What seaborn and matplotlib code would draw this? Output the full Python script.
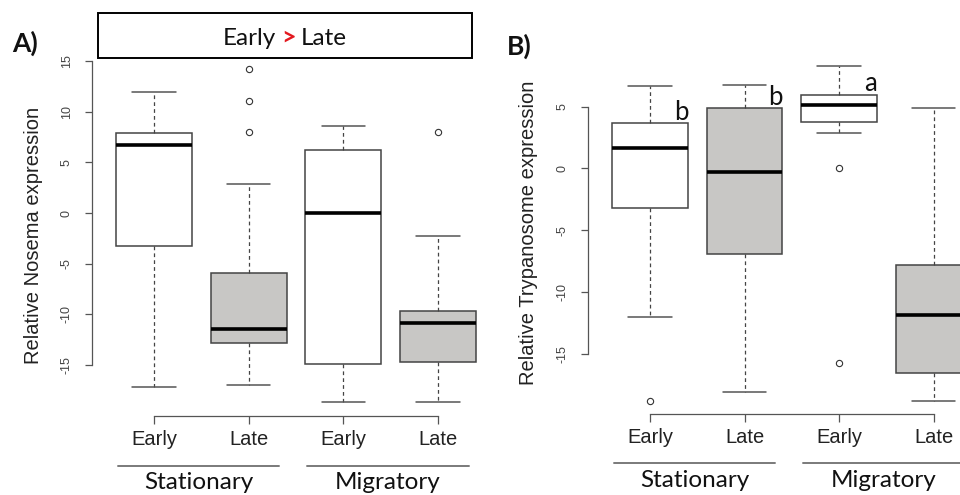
import matplotlib
matplotlib.use("Agg")
import matplotlib.pyplot as plt
import matplotlib.transforms as mtransforms
from matplotlib.patches import Rectangle
from matplotlib.lines import Line2D
import numpy as np
import pandas as pd
import seaborn as sns

# ---------------- data ----------------
groups = ["Stationary Early", "Stationary Late", "Migratory Early", "Migratory Late"]
tick_labels = ["Early", "Late", "Early", "Late"]
group_names = ["Stationary", "Migratory"]
box_colors = ["white", "#c8c7c5", "white", "#c8c7c5"]

# Panel A: Nosema (five-number summary + outliers per group)
nosema_whislo = [-17.2, -17.0, -18.7, -18.7]
nosema_q1 = [-3.3, -12.8, -14.9, -14.7]
nosema_med = [6.7, -11.5, 0.0, -10.9]
nosema_q3 = [7.9, -5.9, 6.2, -9.7]
nosema_whishi = [11.9, 2.9, 8.6, -2.3]
nosema_out = [[], [8.0, 11.1, 14.2], [], [8.0]]

# Panel B: Trypanosome
tryp_whislo = [-12.0, -18.1, 2.9, -18.8]
tryp_q1 = [-3.24, -6.9, 3.72, -16.55]
tryp_med = [1.67, -0.27, 5.1, -11.9]
tryp_q3 = [3.7, 4.9, 5.9, -7.85]
tryp_whishi = [6.7, 6.75, 8.26, 4.9]
tryp_out = [[-18.8], [], [0.0, -15.8], []]
tryp_letters = ["b", "b", "a"]
tryp_letter_y = [3.91, 5.13, 6.26]


def summary_frame(wlo, q1, med, q3, whi, out):
    rows = []
    for g, a, b, c, d, e, o in zip(groups, wlo, q1, med, q3, whi, out):
        vals = list(o) + [a] + [b] * 10 + [c] * 10 + [d] * 10 + [e]
        rows += [(g, v) for v in vals]
    return pd.DataFrame(rows, columns=["group", "value"])


df_a = summary_frame(nosema_whislo, nosema_q1, nosema_med, nosema_q3, nosema_whishi, nosema_out)
df_b = summary_frame(tryp_whislo, tryp_q1, tryp_med, tryp_q3, tryp_whishi, tryp_out)

# ---------------- figure ----------------
sns.set_style("white")
plt.rcParams["font.family"] = ["Liberation Sans", "DejaVu Sans"]
W, H = 960, 495
fig = plt.figure(figsize=(W / 100, H / 100), dpi=100)
fig.patch.set_facecolor("white")


def fx(px):
    return px / W


def fy(py):
    return 1 - py / H


ANNO = ["Lato", "DejaVu Sans"]
LINE = "#444444"
AXC = "#555555"

ax_a = fig.add_axes([fx(91.5), fy(415.5), fx(409), (415.5 - 56) / H])
ax_b = fig.add_axes([fx(587.6), fy(413.5), fx(408.5), (413.5 - 53) / H])

panels = [
    (ax_a, df_a, (-19.99, 15.5), np.arange(-15, 16, 5), (-15, 15), "Relative Nosema expression", 34),
    (ax_b, df_b, (-19.85, 9.34), np.arange(-15, 6, 5), (-15, 5), "Relative Trypanosome expression", 528),
]

for ax, df, ylim, yticks, ybounds, ylabel, ylab_x in panels:
    sns.boxplot(
        data=df, x="group", y="value", hue="group", order=groups, hue_order=groups,
        palette=box_colors, legend=False, ax=ax, width=0.8, whis=1.5,
        linecolor=LINE, linewidth=1.1, saturation=1,
        medianprops=dict(color="black", linewidth=2.6),
        whiskerprops=dict(linestyle=(0, (3, 2.5)), linewidth=0.9, color=LINE),
        capprops=dict(linewidth=1.1, color="#555555"),
        flierprops=dict(marker="o", markerfacecolor="none", markeredgecolor="#333333",
                        markersize=4.5, markeredgewidth=0.8),
        capwidths=0.46,
    )
    ax.set_xlim(-0.66, 3.66)
    ax.set_ylim(*ylim)
    ax.set_yticks(yticks)
    ax.set_yticklabels([str(t) for t in yticks], rotation=90, va="center", fontsize=9, color="#444444")
    ax.set_xticks(range(4))
    ax.set_xticklabels(tick_labels, fontsize=14.5, color="#222222")
    for s in ["top", "right"]:
        ax.spines[s].set_visible(False)
    ax.spines["left"].set_bounds(*ybounds)
    ax.spines["bottom"].set_bounds(0, 3)
    for s in ["left", "bottom"]:
        ax.spines[s].set_color(AXC)
        ax.spines[s].set_linewidth(0.9)
    ax.tick_params(axis="y", direction="out", length=5, width=0.9, color=AXC, pad=8.5, left=True)
    ax.tick_params(axis="x", direction="out", length=5.5, width=0.9, color=AXC, pad=5, bottom=True)
    ax.set_xlabel("")
    ax.set_ylabel(ylabel, fontsize=14.5, color="#222222")
    ax.yaxis.label.set_verticalalignment("center")
    pos = ax.get_position()
    ax.yaxis.set_label_coords((ylab_x - pos.x0 * W) / (pos.width * W), 0.5)
    ax.set_facecolor("none")
    ax.grid(False)

# group underlines and names
for ax, line_y, text_y in [(ax_a, 465.7, 489), (ax_b, 463.3, 487.3)]:
    tr = mtransforms.blended_transform_factory(ax.transData, fig.transFigure)
    for c, name in zip([0.47, 2.47], group_names):
        ln = Line2D([c - 0.855, c + 0.855], [fy(line_y)] * 2, transform=tr, color="#7a7a7a",
                    linewidth=1.4, clip_on=False)
        fig.add_artist(ln)
        fig.text(c, fy(text_y), name, transform=tr, ha="center", va="baseline",
                 fontsize=17.5, family=ANNO, color="#111111")

# significance letters in panel B
for i, (letter, yv) in enumerate(zip(tryp_letters, tryp_letter_y)):
    ax_b.text(i + 0.33, yv, letter, ha="center", va="baseline", fontsize=18.5,
              family=ANNO, color="#111111")

# panel labels
fig.text(fx(12), fy(52), "A)", ha="left", va="baseline", fontsize=19, fontweight="bold",
         family=ANNO, color="#111111")
fig.text(fx(507), fy(55), "B)", ha="left", va="baseline", fontsize=19, fontweight="bold",
         family=ANNO, color="#111111")

# "Early > Late" box
fig.add_artist(Rectangle((fx(97.7), fy(58.3)), fx(471.7 - 97.7), (58.3 - 12.7) / H,
                         transform=fig.transFigure, facecolor="white", edgecolor="black",
                         linewidth=1.4))
fig.text(fx(276), fy(45), "Early", ha="right", va="baseline", fontsize=17.5, family=ANNO, color="#111111")
fig.text(fx(288.5), fy(45), ">", ha="center", va="baseline", fontsize=18, family=ANNO,
         fontweight="bold", color="#e3191f")
fig.text(fx(301), fy(45), "Late", ha="left", va="baseline", fontsize=17.5, family=ANNO, color="#111111")

fig.savefig("out.png", dpi=100)
